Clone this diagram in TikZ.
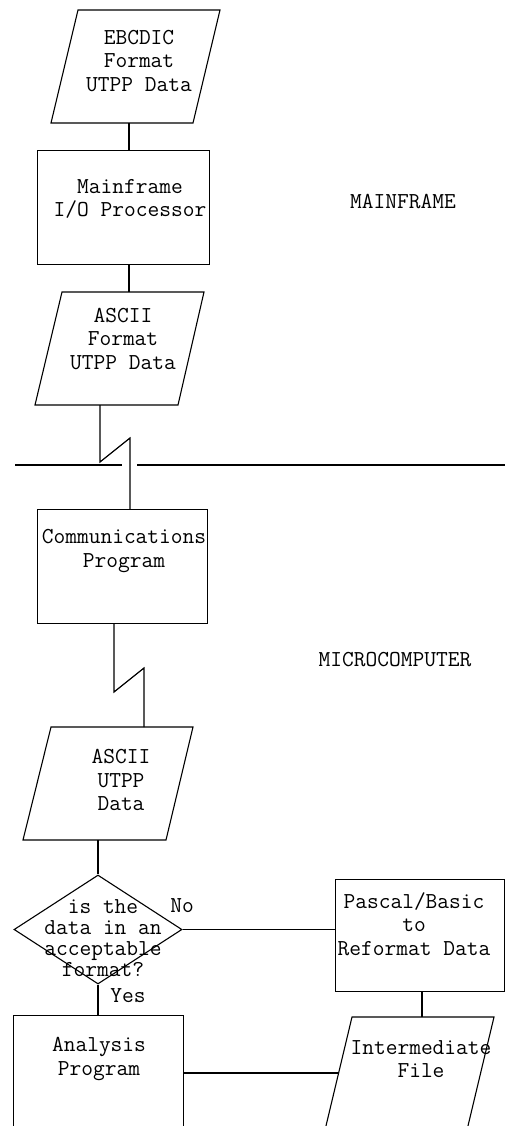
\documentclass[tikz,border=0pt]{standalone}
\usetikzlibrary{shapes.geometric}
\begin{document}
\begin{tikzpicture}[x=1pt,y=-1pt,
  line/.style={line width=1.2pt, line join=miter},
  boxnode/.style={draw, line width=1.1pt, rectangle, inner sep=0pt, anchor=north west},
  txt/.style={inner sep=0pt, align=center, font=\fontsize{22.8}{23.5}\selectfont\ttfamily},
  dtxt/.style={inner sep=0pt, align=center, font=\fontsize{22.8}{21.2}\selectfont\ttfamily}]
\clip (0,0) rectangle (505,1126);
\fill[white] (0,0) rectangle (505,1126);

% EBCDIC parallelogram
\draw[line width=1.1pt] (78,10) -- (220,10) -- (193,123) -- (51,123) -- cycle;
\coordinate (ebcb) at (129,123);
\node[txt] (ebct) at (139,61) {EBCDIC\\Format\\UTPP Data};

% Mainframe box
\node[boxnode, minimum width=172pt, minimum height=114pt] (mf) at (37,150) {};
\node[txt] (mft) at (130,199) {Mainframe\\I/O Processor};
\coordinate (mfb) at (129,264);

% ASCII Format parallelogram
\draw[line width=1.1pt] (62,292) -- (204,292) -- (178,405) -- (35,405) -- cycle;
\coordinate (a1t) at (129,292);
\coordinate (a1b) at (100,405);
\node[txt] (a1txt) at (123,339) {ASCII\\Format\\UTPP Data};

\node[txt] (mainlbl) at (403,202) {MAINFRAME};

% divider
\coordinate (dl1) at (15,465);
\coordinate (dl2) at (122,465);
\coordinate (dr1) at (137,465);
\coordinate (dr2) at (505,465);
\draw[line width=1.1pt] (dl1) -- (dl2);
\draw[line width=1.1pt] (dr1) -- (dr2);

% Communications box
\node[boxnode, minimum width=170pt, minimum height=114pt] (comm) at (37,509) {};
\node[txt] (commt) at (124,551) {Communications\\Program};

\node[txt] (microlbl) at (395,660) {MICROCOMPUTER};

% ASCII UTPP Data parallelogram
\draw[line width=1.1pt] (51,727) -- (193,727) -- (166,840) -- (23,840) -- cycle;
\coordinate (a2t) at (144,727);
\coordinate (a2b) at (98,840);
\node[txt] (a2txt) at (121,780) {ASCII\\UTPP\\Data};

% Decision diamond
\node[draw, line width=1.1pt, diamond, minimum width=168pt, minimum height=109pt, inner sep=0pt] (dec) at (98,929.5) {};
\node[dtxt] (dect) at (103,938) {is the\\data in an\\acceptable\\format?};
\node[txt] (nolbl) at (182,906) {No};
\node[txt] (yeslbl) at (128,996) {Yes};

% Pascal box
\node[boxnode, minimum width=169pt, minimum height=112pt] (pas) at (335,879) {};
\node[txt] (past) at (414,924) {Pascal/Basic\\to\\Reformat Data};
\coordinate (pasb) at (422,991);

% Intermediate file parallelogram
\draw[line width=1.1pt] (352,1017) -- (494,1017) -- (467,1130) -- (325,1130) -- cycle;
\coordinate (intt) at (422,1017);
\coordinate (intl) at (338.6,1073);
\node[txt] (intxt) at (421,1059) {Intermediate\\File};

% Analysis box
\node[boxnode, minimum width=170pt, minimum height=130pt] (ana) at (13,1015) {};
\node[txt] (anat) at (99,1059) {Analysis\\Program};
\coordinate (anar) at (183,1073);

% connectors
\draw[line] (ebcb) -- (ebcb |- mf.north);
\draw[line] (mfb) -- (a1t);
\draw[line] (a1b) -- (100,462) -- (130,438) -- (130 ,509) coordinate (commtop);
\draw[line] (114,623) coordinate (commb) -- (114,692) -- (144,668) -- (a2t);
\draw[line] (a2b) -- (dec.north);
\draw[line] (dec.east) -- (dec.east -| pas.west);
\draw[line] (dec.south) -- (dec.south |- ana.north);
\draw[line] (pasb) -- (intt);
\draw[line] (anar) -- (intl);
\end{tikzpicture}
\end{document}
